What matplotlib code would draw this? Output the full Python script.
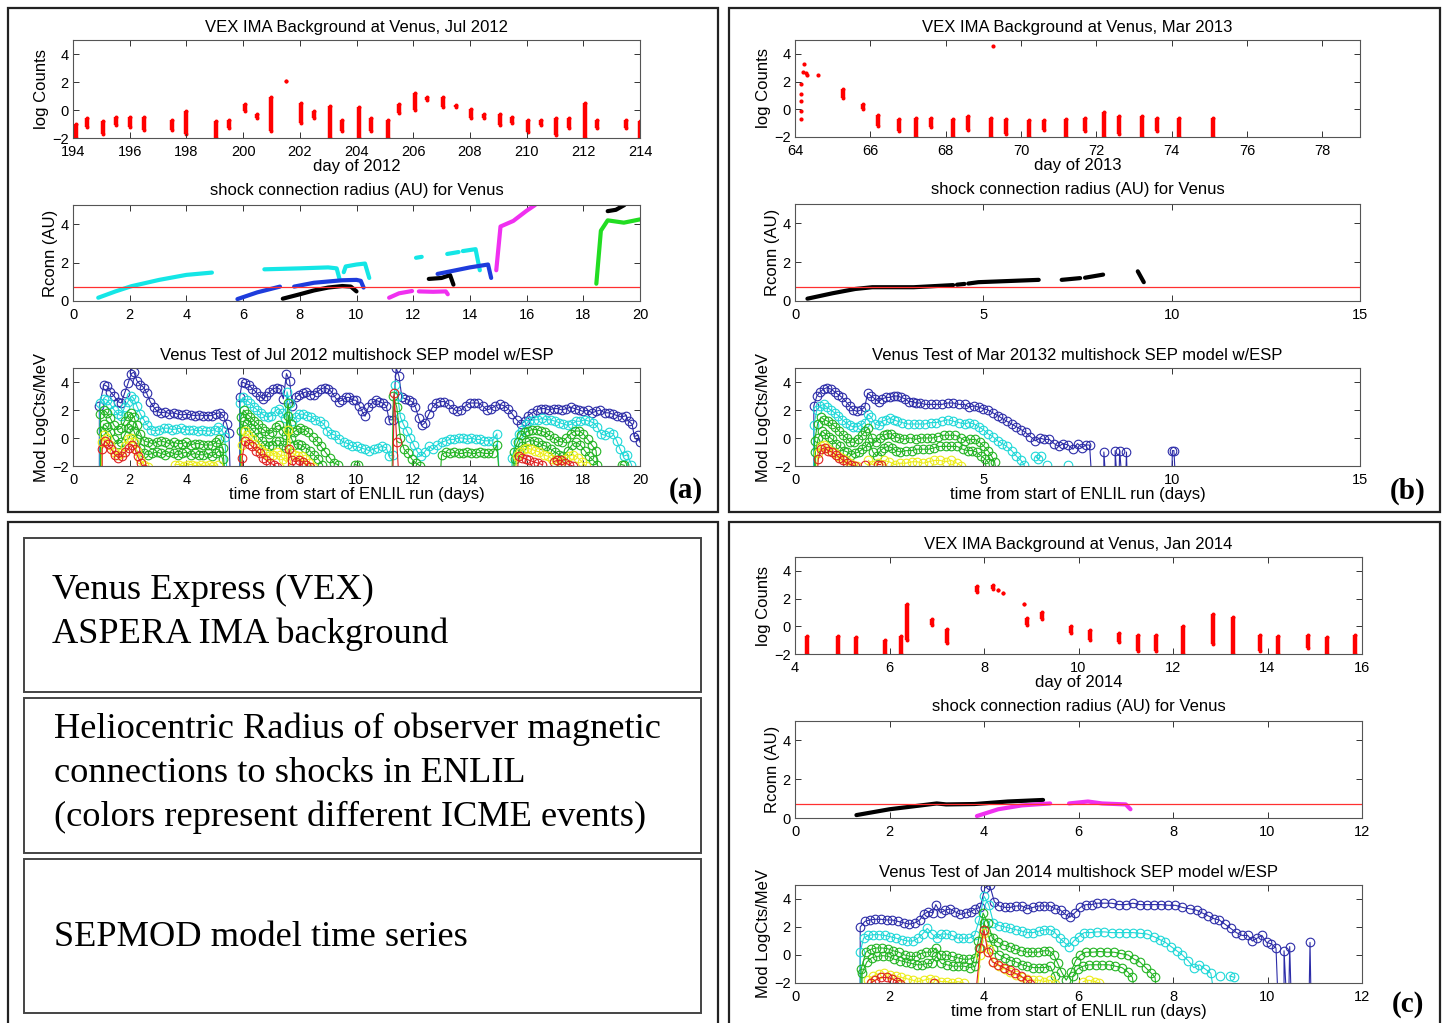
import numpy as np
import matplotlib
matplotlib.use("Agg")
import matplotlib.pyplot as plt
from matplotlib.patches import Rectangle

plt.rcParams['font.family'] = 'Liberation Sans'

nan = np.nan

# ---------------- VEX IMA background (cluster: day, low, high) ----------------
BG_A_DAY = [194.1, 194.5, 195.05, 195.5, 196.0, 196.5, 197.5, 198.0, 199.05, 199.5, 200.05, 200.5,
            201.0, 201.5, 202.05, 202.5, 203.05, 203.5, 204.1, 204.5, 205.1, 205.5, 206.05, 206.5,
            207.05, 207.5, 208.05, 208.5, 209.05, 209.5, 210.05, 210.5, 211.05, 211.5, 212.05, 212.5,
            213.5, 214.0]
BG_A_LO = [-2.0, -1.2, -1.7, -1.1, -1.2, -1.4, -1.4, -1.7, -2.0, -1.3, -0.1, -0.6,
           -1.5, 2.1, -0.9, -0.6, -2.0, -1.5, -2.0, -1.5, -2.0, -0.2, 0.0, 0.7,
           0.2, 0.2, -0.6, -0.6, -1.1, -0.9, -1.6, -1.1, -1.8, -1.3, -2.0, -1.3,
           -1.3, -2.0]
BG_A_HI = [-1.0, -0.6, -0.8, -0.5, -0.5, -0.5, -0.7, -0.1, -0.8, -0.7, 0.45, -0.3,
           0.9, 2.1, 0.5, -0.1, 0.3, -0.7, 0.25, -0.6, -0.7, 0.4, 1.2, 0.9,
           0.9, 0.35, 0.1, -0.3, -0.3, -0.5, -0.7, -0.7, -0.6, -0.6, 0.5, -0.7,
           -0.7, -0.8]

BG_B_DAY = [65.28, 65.8, 66.2, 66.75, 67.2, 67.6, 68.2, 68.6, 69.2, 69.6, 70.2, 70.6,
            71.2, 71.7, 72.2, 72.6, 73.2, 73.6, 74.2, 75.1]
BG_B_LO = [0.8, 0.0, -1.2, -1.6, -2.0, -1.3, -2.0, -1.5, -2.0, -1.8, -2.0, -1.5,
           -2.0, -1.6, -2.0, -1.8, -2.0, -1.6, -2.0, -2.0]
BG_B_HI = [1.5, 0.4, -0.4, -0.7, -0.6, -0.6, -0.7, -0.5, -0.6, -0.7, -0.8, -0.8,
           -0.7, -0.6, -0.2, -0.5, -0.5, -0.6, -0.6, -0.6]
BG_B_PT_DAY = [64.15, 64.15, 64.15, 64.15, 64.15, 64.2, 64.25, 64.3, 64.33, 64.6, 69.25]
BG_B_PT_VAL = [-0.7, -0.1, 0.6, 1.1, 1.8, 2.7, 3.3, 2.6, 2.45, 2.5, 4.6]

BG_C_DAY = [4.25, 4.9, 5.3, 5.9, 6.25, 6.38, 6.9, 7.22, 7.85, 8.2, 8.3, 8.4, 8.85, 8.9,
            9.22, 9.85, 10.25, 10.85, 11.25, 11.65, 12.22, 12.85, 13.27, 13.85, 14.22,
            14.85, 15.25, 15.85]
BG_C_LO = [-2.0, -2.0, -2.0, -2.0, -2.0, -1.0, 0.1, -1.2, 2.5, 2.7, 2.6, 2.4, 1.6, 0.1,
           0.5, -0.5, -1.0, -1.1, -1.8, -1.8, -2.0, -1.3, -2.0, -1.8, -2.0,
           -1.6, -2.0, -2.0]
BG_C_HI = [-0.7, -0.7, -0.8, -1.0, -0.7, 1.6, 0.5, -0.2, 2.9, 3.0, 2.6, 2.4, 1.6, 0.6,
           1.0, 0.0, -0.3, -0.5, -0.6, -0.6, 0.0, 0.9, 0.7, -0.6, -0.7,
           -0.6, -0.8, -0.6]

# ---------------- shock connection radius segments (color, points) ----------------
RC_A = [
    ('cyan', [(0.89, 0.17), (1.5, 0.5), (2.06, 0.77), (3.04, 1.1), (4.0, 1.36), (4.9, 1.48)]),
    ('cyan', [(6.75, 1.65), (8.0, 1.7), (9.0, 1.75), (9.3, 1.7), (9.4, 1.15)]),
    ('cyan', [(9.55, 1.5), (9.62, 1.8), (10.0, 1.9), (10.3, 1.95), (10.45, 1.2)]),
    ('blue', [(5.8, 0.1), (6.5, 0.45), (7.3, 0.75)]),
    ('blue', [(7.8, 0.75), (8.5, 0.95), (9.5, 1.08), (10.0, 1.1), (10.15, 1.05), (10.25, 0.7)]),
    ('black', [(7.4, 0.12), (8.0, 0.35), (8.5, 0.55), (9.0, 0.7), (9.5, 0.78), (9.8, 0.75), (10.0, 0.5)]),
    ('magenta', [(11.15, 0.17), (11.5, 0.4), (11.96, 0.52)]),
    ('magenta', [(12.2, 0.5), (12.7, 0.48), (13.15, 0.5), (13.22, 0.35)]),
    ('cyan', [(12.1, 2.25), (12.3, 2.3)]),
    ('cyan', [(13.2, 2.45), (13.6, 2.55)]),
    ('cyan', [(13.75, 2.6), (14.2, 2.7), (14.35, 1.6)]),
    ('black', [(12.55, 1.15), (13.0, 1.2), (13.3, 1.35), (13.42, 0.85)]),
    ('blue', [(12.86, 1.41), (13.5, 1.6), (14.0, 1.75), (14.64, 1.9), (14.75, 1.2)]),
    ('magenta', [(14.93, 1.6), (15.08, 3.88), (15.53, 4.17), (16.0, 4.7), (16.3, 5.0)]),
    ('black', [(18.86, 4.68), (19.15, 4.75), (19.45, 5.0)]),
    ('green', [(18.46, 0.9), (18.62, 3.66), (18.86, 4.2), (19.43, 4.08), (20.0, 4.25)]),
]
RC_B = [
    ('black', [(0.33, 0.12), (1.0, 0.4), (1.6, 0.62), (2.05, 0.71), (3.15, 0.71), (4.2, 0.82)]),
    ('black', [(4.3, 0.84), (4.5, 0.88)]),
    ('black', [(4.6, 0.9), (4.87, 0.97), (6.47, 1.09)]),
    ('black', [(7.08, 1.09), (7.57, 1.18)]),
    ('black', [(7.7, 1.2), (8.18, 1.36)]),
    ('black', [(9.1, 1.53), (9.26, 0.97)]),
]
RC_C = [
    ('black', [(1.3, 0.15), (2.0, 0.45), (3.0, 0.75), (3.2, 0.7), (3.8, 0.72), (4.5, 0.85), (5.25, 0.93)]),
    ('magenta', [(3.85, 0.1), (4.3, 0.45), (4.8, 0.65), (5.4, 0.75)]),
    ('magenta', [(5.8, 0.75), (6.2, 0.85), (6.5, 0.75), (7.0, 0.7), (7.1, 0.45)]),
]
VENUS_R = 0.72

# ---------------- SEPMOD model time series (time, log value) ----------------
A_BLUE = [(0.93, -3), (0.93, 2.3), (1.09, 3.8), (1.2, 3.7), (1.32, 3.3), (1.45, 3.0), (1.58, 2.6), (1.7, 2.5),
          (1.82, 3.2), (1.94, 3.9), (2.06, 4.6), (2.15, 4.7), (2.25, 4.1), (2.38, 3.8), (2.5, 3.6), (2.6, 3.2),
          (2.72, 2.6), (2.85, 2.2), (2.97, 1.9), (3.1, 1.8), (3.25, 1.85), (3.4, 1.75), (3.55, 1.8), (3.7, 1.7),
          (3.85, 1.65), (4.0, 1.7), (4.15, 1.65), (4.3, 1.6), (4.45, 1.65), (4.6, 1.6), (4.75, 1.6), (4.9, 1.6),
          (5.05, 1.75), (5.18, 1.8), (5.3, 1.6), (5.42, 1.0), (5.5, 0.35), (5.55, -3), (nan, nan),
          (5.88, -3), (5.88, 2.95), (5.97, 4.0), (6.08, 3.9), (6.2, 3.8), (6.33, 3.5), (6.45, 3.3), (6.58, 3.0),
          (6.7, 2.8), (6.82, 3.0), (6.93, 3.3), (7.05, 3.5), (7.18, 3.6), (7.3, 3.5), (7.42, 2.8), (7.53, 4.6),
          (7.64, 4.1), (7.74, 2.3), (7.86, 2.9), (7.98, 3.1), (8.1, 3.2), (8.23, 3.3), (8.36, 3.1), (8.5, 3.1),
          (8.62, 3.3), (8.75, 3.5), (8.88, 3.6), (9.0, 3.5), (9.12, 3.3), (9.25, 2.9), (9.37, 2.6), (9.5, 2.7),
          (9.62, 2.9), (9.74, 2.9), (9.86, 2.7), (9.98, 2.7), (10.1, 2.3), (10.2, 1.9), (10.3, 1.55), (10.42, 2.2),
          (10.55, 2.5), (10.68, 2.7), (10.8, 2.6), (10.92, 2.5), (11.05, 2.3), (11.15, 1.3), (11.27, 1.3),
          (11.4, 5.0), (11.5, 4.4), (11.6, 2.9), (11.72, 2.8), (11.84, 2.7), (11.96, 2.6), (12.08, 2.2),
          (12.2, 1.4), (12.3, 0.9), (12.42, 1.1), (12.55, 1.7), (12.68, 2.2), (12.82, 2.5), (12.95, 2.6),
          (13.1, 2.6), (13.25, 2.4), (13.4, 2.1), (13.55, 1.9), (13.7, 2.0), (13.85, 2.3), (14.0, 2.5),
          (14.15, 2.5), (14.3, 2.5), (14.45, 2.3), (14.6, 2.0), (14.75, 2.1), (14.9, 2.3), (15.05, 2.4),
          (15.2, 2.3), (15.35, 2.1), (15.5, 1.7), (15.65, 1.3), (15.8, 1.0), (15.93, 1.2), (16.05, 1.6),
          (16.2, 1.8), (16.35, 2.0), (16.5, 2.1), (16.65, 2.1), (16.8, 2.0), (16.95, 2.1), (17.1, 2.1),
          (17.25, 2.0), (17.4, 2.1), (17.55, 2.2), (17.7, 2.1), (17.85, 2.0), (18.0, 1.9), (18.15, 2.0),
          (18.3, 1.8), (18.45, 1.9), (18.6, 2.0), (18.75, 1.8), (18.9, 1.8), (19.05, 1.7), (19.2, 1.6),
          (19.35, 1.5), (19.5, 1.6), (19.6, 1.2), (19.72, 1.0), (19.8, 0.1), (19.92, 0.2), (20.0, -0.3)]
A_CYAN = [(0.95, -3), (0.95, 2.5), (1.09, 2.8), (1.2, 2.7), (1.32, 2.4), (1.45, 2.0), (1.58, 1.7), (1.7, 1.6),
          (1.82, 2.2), (1.94, 2.6), (2.06, 3.0), (2.15, 2.8), (2.25, 2.3), (2.38, 1.7), (2.5, 1.3), (2.62, 0.9),
          (2.75, 0.6), (2.9, 0.5), (3.05, 0.6), (3.2, 0.7), (3.35, 0.7), (3.5, 0.6), (3.65, 0.65), (3.8, 0.7),
          (3.95, 0.6), (4.1, 0.55), (4.25, 0.6), (4.4, 0.5), (4.55, 0.55), (4.7, 0.5), (4.85, 0.5), (5.0, 0.6),
          (5.12, 0.8), (5.25, 0.6), (5.35, 0.1), (5.45, -3), (nan, nan),
          (5.9, -3), (5.9, 2.5), (6.0, 2.9), (6.12, 2.7), (6.25, 2.5), (6.38, 2.2), (6.5, 2.0), (6.62, 1.8),
          (6.75, 1.6), (6.88, 1.5), (7.0, 1.6), (7.12, 1.9), (7.25, 2.1), (7.38, 1.8), (7.47, 1.4), (7.55, 3.3),
          (7.65, 2.5), (7.74, 1.2), (7.86, 1.5), (7.98, 1.7), (8.1, 1.7), (8.25, 1.6), (8.4, 1.5), (8.55, 1.3),
          (8.7, 1.2), (8.85, 1.0), (8.97, 0.5), (9.1, 0.3), (9.25, 0.2), (9.4, -0.1), (9.55, -0.3), (9.7, -0.4),
          (9.85, -0.6), (10.0, -0.6), (10.15, -0.7), (10.3, -0.8), (10.45, -0.9), (10.6, -0.8), (10.75, -0.7),
          (10.9, -0.6), (11.05, -0.7), (11.15, -1.3), (11.27, -1.2), (11.35, 3.8), (11.45, 3.0), (11.55, 1.5),
          (11.65, 1.0), (11.78, 0.5), (11.9, 0.0), (12.02, -0.5), (12.15, -1.0), (12.28, -1.3), (12.4, -1.0),
          (12.55, -0.6), (12.7, -0.8), (12.85, -0.5), (13.0, -0.3), (13.15, -0.2), (13.3, -0.1), (13.45, -0.1),
          (13.6, 0.0), (13.75, 0.0), (13.9, -0.1), (14.05, 0.0), (14.2, -0.1), (14.35, -0.1), (14.5, -0.2),
          (14.65, -0.2), (14.8, -0.2), (14.95, 0.3), (15.05, -3), (nan, nan),
          (15.45, -3), (15.5, -1.4), (15.6, -0.3), (15.72, 0.3), (15.85, 0.6), (15.98, 1.0), (16.1, 1.2),
          (16.25, 1.3), (16.4, 1.3), (16.55, 1.4), (16.7, 1.3), (16.85, 1.3), (17.0, 1.2), (17.15, 1.1),
          (17.3, 1.0), (17.45, 0.9), (17.6, 1.0), (17.75, 1.2), (17.9, 1.2), (18.05, 1.3), (18.2, 1.2),
          (18.35, 1.1), (18.5, 0.8), (18.62, 0.3), (18.75, 0.2), (18.9, 0.4), (19.05, 0.3), (19.18, -0.2),
          (19.3, -0.8), (19.42, -1.3), (19.55, -1.2), (19.7, -1.9), (19.8, -3)]
A_GREEN1 = [(0.97, -3), (0.97, 1.7), (1.09, 2.0), (1.2, 1.8), (1.32, 1.4), (1.45, 0.9), (1.58, 0.6), (1.7, 0.7),
            (1.82, 1.2), (1.94, 1.6), (2.06, 1.8), (2.15, 1.5), (2.25, 0.9), (2.38, 0.3), (2.5, -0.2),
            (2.65, -0.3), (2.8, -0.4), (2.95, -0.3), (3.1, -0.2), (3.25, -0.3), (3.4, -0.4), (3.55, -0.3),
            (3.7, -0.4), (3.85, -0.4), (4.0, -0.3), (4.15, -0.5), (4.3, -0.4), (4.45, -0.4), (4.6, -0.5),
            (4.75, -0.5), (4.9, -0.5), (5.05, -0.3), (5.15, -0.1), (5.28, -0.7), (5.38, -3), (nan, nan),
            (5.92, -3), (5.92, 1.5), (6.02, 2.0), (6.14, 1.7), (6.26, 1.5), (6.4, 1.2), (6.52, 1.0), (6.65, 0.7),
            (6.78, 0.5), (6.9, 0.3), (7.02, 0.4), (7.15, 0.8), (7.28, 0.9), (7.4, 0.5), (7.5, 0.2), (7.58, 2.5),
            (7.68, 1.0), (7.78, 0.4), (7.9, 0.6), (8.02, 0.7), (8.15, 0.6), (8.3, 0.4), (8.45, 0.1), (8.6, -0.2),
            (8.75, -0.6), (8.9, -1.0), (9.05, -1.4), (9.2, -1.8), (9.35, -1.9), (9.5, -3), (nan, nan),
            (9.95, -1.9), (10.05, -1.95), (nan, nan),
            (11.25, -3), (11.3, 3.0), (11.42, 2.2), (11.55, 0.0), (11.68, -0.8), (11.82, -1.1), (11.95, -1.5),
            (12.1, -1.8), (12.25, -2.0), (nan, nan),
            (12.95, -3), (13.0, -1.2), (13.15, -1.0), (13.3, -1.1), (13.45, -1.0), (13.6, -1.1), (13.75, -1.1),
            (13.9, -1.0), (14.05, -1.1), (14.2, -1.1), (14.35, -1.0), (14.5, -1.1), (14.65, -1.1), (14.8, -1.1),
            (14.95, -0.5), (15.05, -3), (nan, nan),
            (15.5, -3), (15.55, -1.0), (15.68, -0.3), (15.8, 0.2), (15.93, 0.4), (16.05, 0.5), (16.2, 0.6),
            (16.35, 0.6), (16.5, 0.5), (16.65, 0.4), (16.8, 0.2), (16.95, 0.0), (17.1, -0.2), (17.25, -0.3),
            (17.4, 0.0), (17.55, 0.3), (17.7, 0.5), (17.85, 0.5), (18.0, 0.3), (18.15, -0.1), (18.3, -0.5),
            (18.45, -0.9), (18.55, -3)]
A_GREEN2 = [(1.0, -3), (1.0, 0.5), (1.09, 1.0), (1.2, 0.8), (1.32, 0.4), (1.45, -0.1), (1.58, -0.4), (1.7, -0.3),
            (1.82, 0.2), (1.94, 0.7), (2.06, 0.9), (2.15, 0.5), (2.25, -0.1), (2.38, -0.7), (2.5, -1.1),
            (2.65, -1.2), (2.8, -1.1), (2.95, -1.0), (3.1, -1.1), (3.25, -1.2), (3.4, -1.0), (3.55, -1.1),
            (3.7, -1.2), (3.85, -1.1), (4.0, -1.0), (4.15, -1.2), (4.3, -1.1), (4.45, -1.2), (4.6, -1.2),
            (4.75, -1.1), (4.9, -1.3), (5.05, -1.1), (5.15, -0.9), (5.28, -1.5), (5.35, -3), (nan, nan),
            (5.93, -3), (5.93, 0.5), (6.03, 1.2), (6.15, 1.0), (6.28, 0.7), (6.4, 0.4), (6.52, 0.1), (6.65, -0.2),
            (6.78, -0.5), (6.9, -0.6), (7.02, -0.5), (7.15, -0.2), (7.28, -0.2), (7.4, -0.5), (7.5, -0.7),
            (7.6, 1.6), (7.7, 0.0), (7.8, -0.5), (7.92, -0.4), (8.05, -0.5), (8.2, -0.7), (8.35, -0.9),
            (8.5, -1.2), (8.65, -1.5), (8.8, -1.9), (8.9, -3), (nan, nan),
            (15.55, -3), (15.6, -1.5), (15.72, -1.0), (15.85, -0.6), (15.98, -0.3), (16.1, -0.2), (16.25, -0.2),
            (16.4, -0.3), (16.55, -0.5), (16.7, -0.6), (16.85, -0.8), (17.0, -1.0), (17.15, -1.2), (17.3, -1.3),
            (17.45, -0.9), (17.6, -0.5), (17.75, -0.3), (17.9, -0.5), (18.05, -0.9), (18.2, -1.3), (18.35, -1.6),
            (18.5, -1.9), (18.6, -3), (nan, nan), (19.35, -1.9), (19.45, -1.95)]
A_YELLOW = [(1.0, -3), (1.02, -0.3), (1.09, 0.2), (1.2, 0.0), (1.32, -0.5), (1.45, -1.0), (1.58, -1.2),
            (1.7, -1.1), (1.82, -0.6), (1.94, -0.1), (2.06, 0.0), (2.15, -0.3), (2.25, -0.9), (2.38, -1.5),
            (2.5, -1.9), (2.65, -2.1), (nan, nan),
            (3.6, -1.9), (3.75, -1.9), (3.9, -2.0), (4.05, -1.9), (4.2, -1.9), (4.35, -2.0), (4.5, -1.9),
            (4.65, -2.0), (4.8, -1.9), (4.95, -2.0), (5.1, -1.9), (nan, nan),
            (5.95, -3), (5.95, -0.5), (6.05, 0.5), (6.17, 0.2), (6.3, -0.1), (6.42, -0.4), (6.55, -0.7),
            (6.68, -0.9), (6.8, -1.1), (6.92, -1.3), (7.05, -1.2), (7.18, -1.0), (7.3, -1.2), (7.42, -1.5),
            (7.52, -1.7), (7.6, 0.6), (7.7, -1.0), (7.82, -1.2), (7.95, -1.3), (8.08, -1.3), (8.2, -1.5),
            (8.33, -1.8), (8.45, -2.1), (nan, nan),
            (15.6, -3), (15.65, -1.3), (15.78, -1.0), (15.9, -0.8), (16.02, -0.7), (16.15, -0.8), (16.3, -0.9),
            (16.45, -1.0), (16.6, -1.2), (16.75, -1.3), (16.9, -1.5), (17.05, -1.6), (17.2, -1.7), (17.35, -1.5),
            (17.5, -1.3), (17.65, -1.2), (17.8, -1.4), (17.95, -1.7), (18.1, -2.0)]
A_RED = [(1.03, -3), (1.03, -0.8), (1.12, -0.2), (1.22, -0.4), (1.35, -0.8), (1.48, -1.2), (1.6, -1.4),
         (1.72, -1.3), (1.84, -1.0), (1.96, -0.7), (2.08, -0.5), (2.18, -0.8), (2.28, -1.3), (2.4, -1.8),
         (2.5, -2.2), (nan, nan),
         (5.97, -3), (5.97, -1.4), (6.07, -0.2), (6.2, -0.4), (6.32, -0.6), (6.45, -0.9), (6.58, -1.1),
         (6.7, -1.4), (6.82, -1.6), (6.95, -1.8), (7.08, -1.9), (7.2, -2.1), (nan, nan),
         (7.58, -3), (7.62, -0.8), (7.72, -1.6), (7.85, -1.7), (7.98, -1.6), (8.1, -1.7), (8.22, -1.9),
         (8.35, -2.1), (nan, nan),
         (11.28, -3), (11.33, 3.2), (11.42, -0.3), (11.5, -3), (nan, nan),
         (15.65, -3), (15.72, -1.3), (15.85, -1.4), (15.98, -1.5), (16.1, -1.6), (16.25, -1.7), (16.4, -1.8),
         (16.55, -1.9), (nan, nan),
         (16.95, -1.7), (17.08, -1.6), (17.2, -1.6), (17.35, -1.8), (17.5, -1.9), (17.62, -2.0)]

B_BLUE = [(0.5, -3), (0.5, 2.3), (0.58, 3.0), (0.67, 3.3), (0.76, 3.5), (0.85, 3.6), (0.95, 3.5), (1.05, 3.3),
          (1.15, 3.1), (1.25, 2.9), (1.35, 2.6), (1.45, 2.3), (1.55, 2.0), (1.65, 1.9), (1.75, 2.0), (1.85, 2.2),
          (1.93, 3.2), (2.02, 3.0), (2.12, 2.8), (2.22, 2.6), (2.32, 2.8), (2.42, 2.9), (2.52, 2.9), (2.62, 3.0),
          (2.72, 3.0), (2.82, 2.9), (2.92, 2.8), (3.02, 2.6), (3.12, 2.6), (3.22, 2.5), (3.32, 2.5), (3.45, 2.4),
          (3.6, 2.4), (3.75, 2.4), (3.9, 2.4), (4.05, 2.5), (4.2, 2.5), (4.35, 2.4), (4.5, 2.4), (4.62, 2.2),
          (4.75, 2.3), (4.88, 2.2), (5.0, 2.1), (5.12, 2.0), (5.25, 1.8), (5.38, 1.6), (5.5, 1.4), (5.62, 1.2),
          (5.75, 1.0), (5.88, 0.8), (6.0, 0.6), (6.12, 0.4), (6.25, 0.1), (6.38, -0.2), (6.5, 0.0), (6.62, -0.1),
          (6.75, -0.1), (6.88, -0.4), (7.0, -0.6), (7.12, -0.4), (7.25, -0.5), (7.38, -0.8), (7.5, -0.4),
          (7.62, -0.7), (7.72, -0.5), (7.82, -0.5), (7.88, -3), (nan, nan),
          (8.2, -3), (8.2, -1.0), (8.25, -3), (nan, nan), (8.5, -3), (8.5, -0.9), (8.55, -3), (nan, nan),
          (8.6, -3), (8.62, -0.9), (8.68, -3), (nan, nan), (8.78, -3), (8.8, -1.0), (8.82, -3), (nan, nan),
          (10.0, -3), (10.02, -0.9), (10.06, -0.9), (10.1, -3)]
B_CYAN = [(0.5, -3), (0.5, 0.9), (0.58, 2.0), (0.67, 2.3), (0.76, 2.4), (0.85, 2.2), (0.95, 2.0), (1.05, 1.8),
          (1.15, 1.6), (1.25, 1.3), (1.35, 1.1), (1.45, 0.9), (1.55, 0.8), (1.65, 0.8), (1.75, 0.9), (1.85, 1.1),
          (1.93, 1.7), (2.02, 1.5), (2.12, 1.0), (2.22, 0.9), (2.32, 1.2), (2.42, 1.3), (2.52, 1.4), (2.62, 1.3),
          (2.72, 1.2), (2.85, 1.1), (3.0, 1.0), (3.15, 1.0), (3.3, 1.0), (3.45, 1.0), (3.6, 1.1), (3.75, 1.1),
          (3.9, 1.2), (4.05, 1.3), (4.2, 1.2), (4.35, 1.1), (4.5, 1.0), (4.62, 1.1), (4.75, 1.0), (4.88, 0.8),
          (5.0, 0.6), (5.12, 0.3), (5.25, 0.1), (5.38, -0.2), (5.5, -0.4), (5.62, -0.6), (5.75, -0.9),
          (5.88, -1.3), (6.0, -1.6), (6.08, -1.9), (6.15, -3), (nan, nan),
          (6.38, -1.3), (6.45, -1.5), (6.52, -1.3), (nan, nan), (6.68, -1.9), (nan, nan), (7.25, -1.9)]
B_GREEN1 = [(0.52, -3), (0.52, -0.2), (0.6, 1.0), (0.69, 1.5), (0.78, 1.3), (0.87, 1.2), (0.97, 1.0),
            (1.07, 0.8), (1.17, 0.5), (1.27, 0.2), (1.37, 0.0), (1.47, -0.3), (1.57, -0.3), (1.67, -0.1),
            (1.77, 0.2), (1.87, 0.5), (1.95, 0.7), (2.05, 0.0), (2.15, -0.3), (2.25, 0.0), (2.35, 0.2),
            (2.45, 0.3), (2.55, 0.3), (2.65, 0.1), (2.75, 0.0), (2.9, -0.1), (3.05, 0.0), (3.2, -0.1),
            (3.35, 0.0), (3.5, 0.0), (3.65, 0.0), (3.8, 0.1), (3.95, 0.2), (4.1, 0.2), (4.25, 0.2), (4.4, 0.0),
            (4.52, -0.2), (4.65, -0.1), (4.78, -0.1), (4.9, -0.3), (5.02, -0.6), (5.12, -0.9), (5.22, -1.3),
            (5.3, -1.7), (5.38, -3)]
B_GREEN2 = [(0.54, -3), (0.54, -1.0), (0.62, 0.0), (0.71, 0.5), (0.8, 0.3), (0.89, 0.1), (0.99, -0.1),
            (1.09, -0.4), (1.19, -0.6), (1.29, -0.9), (1.39, -1.0), (1.49, -1.2), (1.59, -1.1), (1.69, -1.0),
            (1.79, -0.8), (1.89, -0.6), (1.97, -0.3), (2.07, -1.0), (2.17, -1.3), (2.27, -0.9), (2.37, -0.7),
            (2.47, -0.6), (2.57, -0.7), (2.67, -0.9), (2.8, -1.0), (2.95, -0.9), (3.1, -0.9), (3.25, -0.8),
            (3.4, -0.8), (3.55, -0.8), (3.7, -0.7), (3.85, -0.6), (4.0, -0.6), (4.15, -0.6), (4.3, -0.6),
            (4.45, -0.8), (4.58, -0.9), (4.7, -0.9), (4.82, -1.0), (4.95, -1.3), (5.05, -1.5), (5.15, -1.8),
            (5.22, -3)]
B_YELLOW = [(0.56, -3), (0.6, -1.1), (0.68, -0.6), (0.76, -0.5), (0.85, -0.7), (0.95, -0.9), (1.05, -1.1),
            (1.15, -1.3), (1.25, -1.4), (1.35, -1.6), (1.45, -1.8), (1.55, -1.9), (1.65, -2.0), (nan, nan),
            (1.95, -1.6), (2.05, -1.9), (2.2, -1.8), (2.35, -1.6), (2.5, -1.7), (2.65, -1.9), (2.8, -1.8),
            (2.95, -1.8), (3.1, -1.7), (3.25, -1.7), (3.4, -1.8), (3.55, -1.7), (3.7, -1.6), (3.85, -1.6),
            (4.0, -1.7), (4.15, -1.6), (4.3, -1.8), (4.42, -2.0)]
B_RED = [(0.58, -3), (0.62, -1.5), (0.7, -0.8), (0.79, -0.7), (0.88, -0.9), (0.98, -1.0), (1.08, -1.2),
         (1.18, -1.4), (1.28, -1.6), (1.38, -1.8), (1.48, -1.9), (1.58, -2.0), (nan, nan), (1.85, -1.9),
         (nan, nan), (2.2, -1.9), (2.27, -1.9)]

C_BLUE = [(1.38, -3), (1.38, 2.0), (1.48, 2.4), (1.58, 2.5), (1.7, 2.55), (1.82, 2.55), (1.94, 2.5), (2.06, 2.5),
          (2.18, 2.4), (2.3, 2.3), (2.42, 2.2), (2.54, 2.3), (2.64, 2.5), (2.72, 2.9), (2.82, 3.1), (2.92, 3.0),
          (2.98, 3.6), (3.08, 3.0), (3.18, 3.2), (3.28, 3.3), (3.38, 3.1), (3.5, 2.9), (3.62, 3.0), (3.72, 3.1),
          (3.82, 3.3), (3.92, 3.4), (4.02, 4.8), (4.12, 5.0), (4.22, 3.8), (4.32, 3.5), (4.44, 3.4), (4.56, 3.4),
          (4.68, 3.5), (4.8, 3.5), (4.92, 3.3), (5.04, 3.4), (5.16, 3.5), (5.28, 3.5), (5.4, 3.5), (5.5, 3.3),
          (5.62, 3.2), (5.72, 2.9), (5.82, 2.7), (5.92, 3.0), (6.04, 3.4), (6.16, 3.6), (6.28, 3.6), (6.4, 3.7),
          (6.55, 3.7), (6.7, 3.7), (6.85, 3.6), (7.0, 3.6), (7.15, 3.7), (7.3, 3.6), (7.45, 3.6), (7.6, 3.6),
          (7.75, 3.6), (7.9, 3.55), (8.05, 3.55), (8.2, 3.4), (8.35, 3.3), (8.5, 3.2), (8.62, 3.0), (8.74, 2.8),
          (8.86, 2.6), (8.98, 2.5), (9.1, 2.2), (9.22, 1.9), (9.34, 1.6), (9.46, 1.4), (9.58, 1.4), (9.68, 1.0),
          (9.78, 1.2), (9.88, 1.4), (9.98, 0.9), (10.08, 0.8), (10.18, 0.5), (10.22, -3), (nan, nan),
          (10.35, -3), (10.35, 0.3), (10.4, -3), (nan, nan), (10.45, -3), (10.47, 0.6), (10.5, -3), (nan, nan),
          (10.88, -3), (10.9, 0.9), (10.92, -3)]
C_CYAN = [(1.38, -3), (1.38, 0.2), (1.45, 1.2), (1.55, 1.4), (1.66, 1.45), (1.78, 1.45), (1.9, 1.4), (2.02, 1.3),
          (2.14, 1.2), (2.26, 1.1), (2.38, 1.0), (2.5, 1.0), (2.6, 1.2), (2.7, 1.5), (2.8, 1.9), (2.9, 1.5),
          (3.0, 1.2), (3.1, 1.5), (3.2, 1.5), (3.32, 1.4), (3.44, 1.2), (3.56, 1.2), (3.68, 1.2), (3.8, 1.4),
          (3.9, 2.5), (4.0, 4.2), (4.1, 3.6), (4.2, 2.3), (4.32, 2.1), (4.44, 2.0), (4.56, 1.9), (4.68, 1.8),
          (4.8, 1.7), (4.92, 1.6), (5.04, 1.6), (5.16, 1.7), (5.28, 1.8), (5.4, 1.8), (5.5, 1.6), (5.6, 1.2),
          (5.7, 0.9), (5.8, 0.6), (5.9, 1.0), (6.0, 1.3), (6.12, 1.6), (6.25, 1.6), (6.4, 1.65), (6.55, 1.65),
          (6.7, 1.6), (6.85, 1.6), (7.0, 1.6), (7.15, 1.6), (7.3, 1.55), (7.45, 1.5), (7.6, 1.3), (7.72, 1.1),
          (7.84, 0.9), (7.96, 0.6), (8.08, 0.3), (8.2, 0.0), (8.32, -0.4), (8.44, -0.9), (8.56, -0.7),
          (8.68, -1.0), (8.8, -1.3), (8.88, -3), (nan, nan), (9.0, -1.5), (nan, nan), (9.2, -1.5), (9.3, -1.6)]
C_GREEN1 = [(1.4, -3), (1.4, -1.0), (1.5, 0.2), (1.6, 0.4), (1.72, 0.5), (1.84, 0.5), (1.96, 0.45), (2.08, 0.3),
            (2.2, 0.2), (2.32, 0.0), (2.44, -0.1), (2.56, -0.1), (2.66, 0.1), (2.78, 0.2), (2.9, 0.2), (2.98, 0.5),
            (3.08, 0.0), (3.2, 0.0), (3.32, -0.1), (3.44, -0.2), (3.56, -0.3), (3.68, -0.3), (3.8, -0.2),
            (3.88, 1.0), (3.98, 3.0), (4.08, 2.3), (4.18, 1.2), (4.3, 0.9), (4.42, 0.7), (4.54, 0.6), (4.66, 0.4),
            (4.78, 0.3), (4.9, 0.2), (5.02, 0.2), (5.14, 0.2), (5.26, 0.3), (5.38, 0.3), (5.48, 0.0),
            (5.56, -0.6), (5.64, -1.2), (5.74, -1.8), (5.84, -1.2), (5.94, -0.4), (6.04, 0.0), (6.16, 0.2),
            (6.3, 0.2), (6.45, 0.25), (6.6, 0.2), (6.75, 0.2), (6.9, 0.1), (7.05, 0.0), (7.18, -0.3), (7.3, -0.5),
            (7.42, -0.9), (7.54, -1.3), (7.62, -1.6), (7.66, -3)]
C_GREEN2 = [(1.42, -3), (1.42, -1.3), (1.52, -0.5), (1.62, -0.2), (1.74, -0.1), (1.86, -0.05), (1.98, -0.1),
            (2.1, -0.3), (2.22, -0.4), (2.34, -0.5), (2.46, -0.6), (2.58, -0.7), (2.68, -0.7), (2.8, -0.6),
            (2.9, -0.6), (2.99, -0.1), (3.1, -0.6), (3.22, -0.7), (3.34, -0.8), (3.46, -0.8), (3.58, -0.8),
            (3.7, -0.9), (3.82, -0.8), (3.9, 0.5), (4.0, 2.3), (4.1, 1.3), (4.2, 0.4), (4.32, 0.0), (4.44, -0.2),
            (4.56, -0.4), (4.68, -0.5), (4.8, -0.7), (4.92, -0.8), (5.04, -0.9), (5.16, -0.9), (5.28, -0.9),
            (5.4, -0.8), (5.5, -1.5), (5.6, -3), (nan, nan),
            (5.85, -3), (5.88, -1.5), (5.98, -1.0), (6.1, -0.8), (6.22, -0.7), (6.36, -0.7), (6.5, -0.7),
            (6.64, -0.7), (6.78, -0.8), (6.92, -0.9), (7.04, -1.2), (7.14, -1.6), (7.2, -3)]
C_YELLOW = [(1.5, -3), (1.55, -1.8), (1.65, -1.5), (1.77, -1.35), (1.89, -1.3), (2.01, -1.4), (2.13, -1.5),
            (2.25, -1.6), (2.37, -1.7), (2.49, -1.8), (2.61, -1.9), (2.73, -1.8), (2.85, -1.7), (2.97, -1.8),
            (3.09, -1.9), (3.21, -1.9), (3.33, -2.0), (3.45, -1.9), (3.57, -2.0), (nan, nan),
            (3.85, -3), (3.92, 0.0), (4.0, 1.6), (4.1, 0.4), (4.2, -0.5), (4.32, -0.8), (4.44, -1.0),
            (4.56, -1.2), (4.68, -1.4), (4.8, -1.6), (4.92, -1.7), (5.04, -1.8), (5.16, -1.8), (5.28, -1.9),
            (5.4, -1.8), (5.5, -2.1), (nan, nan), (6.1, -1.9), (6.22, -1.8), (6.34, -1.9), (6.44, -2.0)]
C_RED = [(1.55, -3), (1.6, -2.0), (1.7, -1.8), (1.82, -1.6), (1.94, -1.6), (2.06, -1.7), (2.16, -1.9),
         (2.22, -2.1), (nan, nan), (2.95, -2.0), (nan, nan),
         (3.82, -3), (3.92, 0.5), (4.0, 1.8), (4.08, 0.2), (4.18, -0.5), (4.3, -0.7), (4.42, -0.9),
         (4.54, -1.1), (4.66, -1.3), (4.78, -1.5), (4.9, -1.8), (4.98, -2.1)]

SEP_COLORS = ['#2c2ca8', '#1ed8d8', '#22b422', '#22b422', '#eded1a', '#e02222']
RC_COLORS = {'cyan': '#14e6e6', 'blue': '#1e3cdc', 'black': 'black', 'magenta': '#f030f0', 'green': '#22dd22'}

W, H = 1445, 1023
fig = plt.figure(figsize=(W / 100, H / 100), dpi=100)


def px_axes(x0, x1, y0, y1):
    return fig.add_axes([x0 / W, 1 - y1 / H, (x1 - x0) / W, (y1 - y0) / H])


def style(ax, xlim, xticks, ylab):
    ax.set_xlim(*xlim)
    ax.set_ylim(-2, 5)
    ax.set_xticks(xticks)
    ax.set_yticks([-2, 0, 2, 4])
    ax.tick_params(direction='in', top=True, right=True, length=4, width=0.7, labelsize=10.5,
                   colors='#333333', labelcolor='black')
    ax.tick_params(axis='x', pad=5)
    ax.tick_params(axis='y', pad=3)
    for s in ax.spines.values():
        s.set_color('#555555')
        s.set_linewidth(0.8)
    ax.set_ylabel(ylab, fontsize=12, labelpad=2)


def box(x0, y0, x1, y1, lw=1.6, color='#222222'):
    fig.add_artist(Rectangle((x0 / W, 1 - y1 / H), (x1 - x0) / W, (y1 - y0) / H,
                             transform=fig.transFigure, fill=False, lw=lw, edgecolor=color))


def background(ax, days, lo, hi, pday=None, pval=None):
    ax.vlines(days, lo, hi, colors='#ff0000', lw=3.2)
    ax.scatter(days, lo, s=8, color='#ff0000', lw=0)
    ax.scatter(days, hi, s=8, color='#ff0000', lw=0)
    if pday is not None:
        ax.scatter(pday, pval, s=9, color='#ff0000', lw=0)


def rconn(ax, segs):
    for col, pts in segs:
        x, y = np.array(pts).T
        ax.plot(x, y, color=RC_COLORS[col], lw=3, solid_capstyle='round')
    ax.axhline(VENUS_R, color='#ff3030', lw=0.9)


def sepmod(ax, series):
    for pts, col in zip(series, SEP_COLORS):
        t, v = np.array(pts, dtype=float).T
        ax.plot(t, v, color=col, lw=0.8, marker='o', ms=6.2, mfc='none', mew=0.8)


panels = [
    dict(x0=73, x1=640, ys=[(40, 138), (205, 301), (368, 466)],
         bg=(BG_A_DAY, BG_A_LO, BG_A_HI, None, None), bgx=(194, 214), bgt=range(194, 215, 2),
         title='VEX IMA Background at Venus, Jul 2012', year='day of 2012',
         rc=RC_A, tx=(0, 20), tt=range(0, 21, 2),
         sep=[A_BLUE, A_CYAN, A_GREEN1, A_GREEN2, A_YELLOW, A_RED],
         sept='Venus Test of Jul 2012 multishock SEP model w/ESP', lab='(a)', labxy=(686, 491)),
    dict(x0=795, x1=1360, ys=[(40, 137), (204, 301), (368, 466)],
         bg=(BG_B_DAY, BG_B_LO, BG_B_HI, BG_B_PT_DAY, BG_B_PT_VAL), bgx=(64, 79), bgt=range(64, 79, 2),
         title='VEX IMA Background at Venus, Mar 2013', year='day of 2013',
         rc=RC_B, tx=(0, 15), tt=[0, 5, 10, 15],
         sep=[B_BLUE, B_CYAN, B_GREEN1, B_GREEN2, B_YELLOW, B_RED],
         sept='Venus Test of Mar 20132 multishock SEP model w/ESP', lab='(b)', labxy=(1408, 491)),
    dict(x0=795, x1=1362, ys=[(557, 654), (721, 818), (885, 983)],
         bg=(BG_C_DAY, BG_C_LO, BG_C_HI, None, None), bgx=(4, 16), bgt=range(4, 17, 2),
         title='VEX IMA Background at Venus, Jan 2014', year='day of 2014',
         rc=RC_C, tx=(0, 12), tt=range(0, 13, 2),
         sep=[C_BLUE, C_CYAN, C_GREEN1, C_GREEN2, C_YELLOW, C_RED],
         sept='Venus Test of Jan 2014 multishock SEP model w/ESP', lab='(c)', labxy=(1408, 1004)),
]

for p in panels:
    (t0, t1), (m0, m1), (b0, b1) = p['ys']
    ax1 = px_axes(p['x0'], p['x1'], t0, t1)
    background(ax1, *p['bg'])
    style(ax1, p['bgx'], list(p['bgt']), 'log Counts')
    ax1.set_title(p['title'], fontsize=12, pad=6)
    ax1.set_xlabel(p['year'], fontsize=12, labelpad=0)

    ax2 = px_axes(p['x0'], p['x1'], m0, m1)
    rconn(ax2, p['rc'])
    style(ax2, p['tx'], list(p['tt']), 'Rconn (AU)')
    ax2.set_ylim(0, 5)
    ax2.set_yticks([0, 2, 4])
    ax2.set_title('shock connection radius (AU) for Venus', fontsize=12, pad=7)

    ax3 = px_axes(p['x0'], p['x1'], b0, b1)
    sepmod(ax3, p['sep'])
    style(ax3, p['tx'], list(p['tt']), 'Mod LogCts/MeV')
    ax3.set_title(p['sept'], fontsize=12, pad=6)
    ax3.set_xlabel('time from start of ENLIL run (days)', fontsize=12, labelpad=0)

    fig.text(p['labxy'][0] / W, 1 - p['labxy'][1] / H, p['lab'], fontsize=21, fontweight='bold',
             family='Liberation Serif', ha='center', va='center')

# outer panel frames
box(8, 8, 718, 512)
box(729, 8, 1440, 512)
box(8, 522, 718, 1030)
box(729, 522, 1440, 1030)

# description boxes
box(24, 538, 701, 692, lw=1.4, color='#444444')
box(24, 698, 701, 853, lw=1.4, color='#444444')
box(24, 859, 701, 1013, lw=1.4, color='#444444')

desc = [
    (52, 590, 'Venus Express (VEX)'),
    (52, 634, 'ASPERA IMA background'),
    (54, 729, 'Heliocentric Radius of observer magnetic'),
    (54, 773, 'connections to shocks in ENLIL'),
    (54, 817, '(colors represent different ICME events)'),
    (54, 937, 'SEPMOD model time series'),
]
for x, y, s in desc:
    fig.text(x / W, 1 - y / H, s, fontsize=26.2, family='Liberation Serif', ha='left', va='center')

fig.savefig('out.png', dpi=100)
